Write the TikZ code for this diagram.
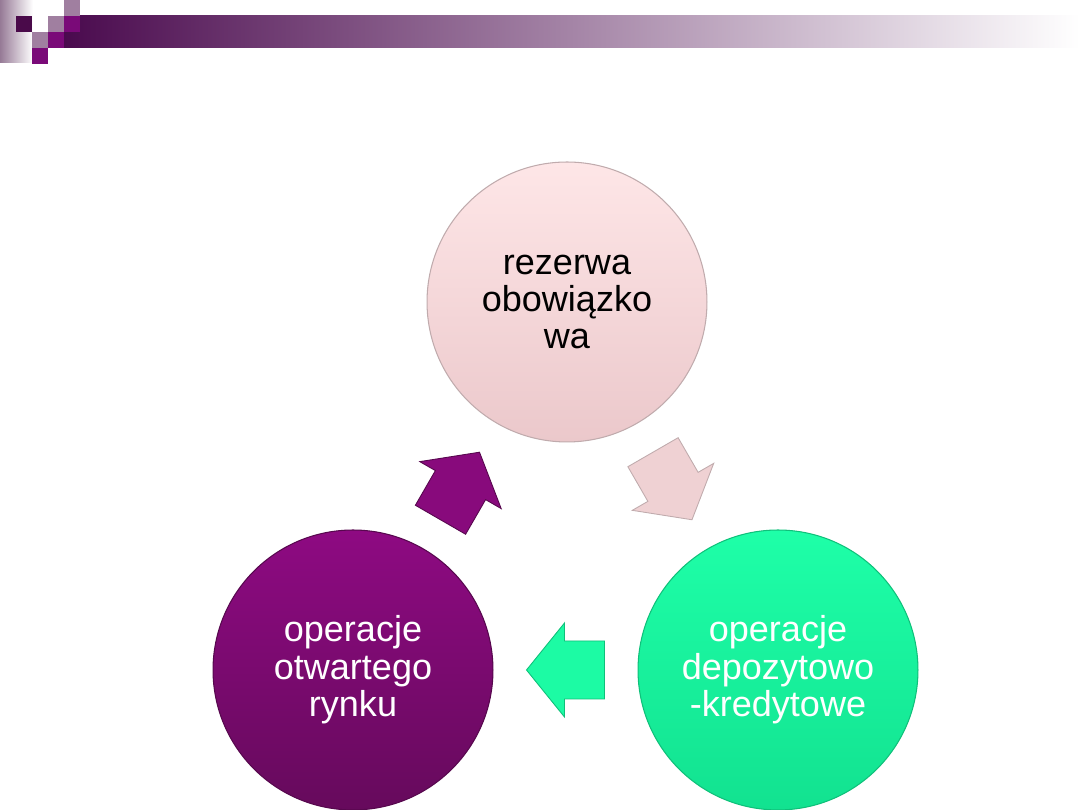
\documentclass[tikz,border=0pt]{standalone}
\usepackage{fontspec}
\setmainfont{Liberation Sans}
\usetikzlibrary{calc}
\definecolor{barpurple}{RGB}{74,10,78}
\definecolor{squaredark}{RGB}{74,10,74}
\definecolor{squaremauve}{RGB}{160,127,160}
\definecolor{squarepurple}{RGB}{122,10,120}
\definecolor{fadegrey}{RGB}{150,122,150}
\definecolor{rosetop}{RGB}{254,230,231}
\definecolor{rosebottom}{RGB}{235,200,203}
\definecolor{rosearrow}{RGB}{239,209,211}
\definecolor{minttop}{RGB}{30,255,168}
\definecolor{mintbottom}{RGB}{18,226,144}
\definecolor{plumtop}{RGB}{142,10,130}
\definecolor{plumbottom}{RGB}{102,10,92}
\tikzset{
  phase/.style={circle,minimum size=5.6cm,inner sep=0pt,align=center,
                font=\fontsize{20.5}{21.3}\selectfont,line width=0.6pt},
  rosephase/.style={phase,top color=rosetop,bottom color=rosebottom,draw=rosebottom!75!black!80,text=black},
  mintphase/.style={phase,top color=minttop,bottom color=mintbottom,draw=mintbottom!85!black,text=white},
  plumphase/.style={phase,top color=plumtop,bottom color=plumbottom,draw=plumbottom!85!black,text=white},
  turn/.style={line width=0.5pt,line join=miter},
  blockarrow/.pic={
    \path[pic actions] (39,0) -- (1,47) -- (1,29) -- (-39,29) -- (-39,-29)
      -- (1,-29) -- (1,-47) -- cycle;
  },
}

\begin{document}
\begin{tikzpicture}[x=0.02cm,y=0.02cm]
  \path[use as bounding box] (0,0) rectangle (1080,810);

  % header band
  \shade[left color=fadegrey,right color=white] (0,747) rectangle (33,810);
  \shade[left color=barpurple,right color=white] (64,762) rectangle (1080,794);
  \fill[squaredark] (16,778) rectangle +(16,16);
  \foreach \x/\y in {48/778,32/762,64/794}
    \fill[squaremauve] (\x,\y) rectangle +(16,16);
  \foreach \x/\y in {64/778,48/762,32/746}
    \fill[squarepurple] (\x,\y) rectangle +(16,16);

  % cycle
  \node[rosephase] (rez) at (567,508) {rezerwa\\obowiązko\\wa};
  \node[mintphase] (dep) at (778,140) {operacje\\depozytowo\\-kredytowe};
  \node[plumphase] (otw) at (353,140) {operacje\\otwartego\\rynku};

  \pic[turn,rotate=-60,fill=rosearrow,draw=rosebottom!75!black!80] at ($(rez)!0.5!(dep)$) {blockarrow};
  \pic[turn,rotate=180,fill=minttop!85!mintbottom,draw=mintbottom!85!black] at ($(dep)!0.5!(otw)$) {blockarrow};
  \pic[turn,rotate=60,fill=plumtop!85!plumbottom,draw=plumbottom!85!black] at ($(otw)!0.5!(rez)$) {blockarrow};
\end{tikzpicture}
\end{document}
